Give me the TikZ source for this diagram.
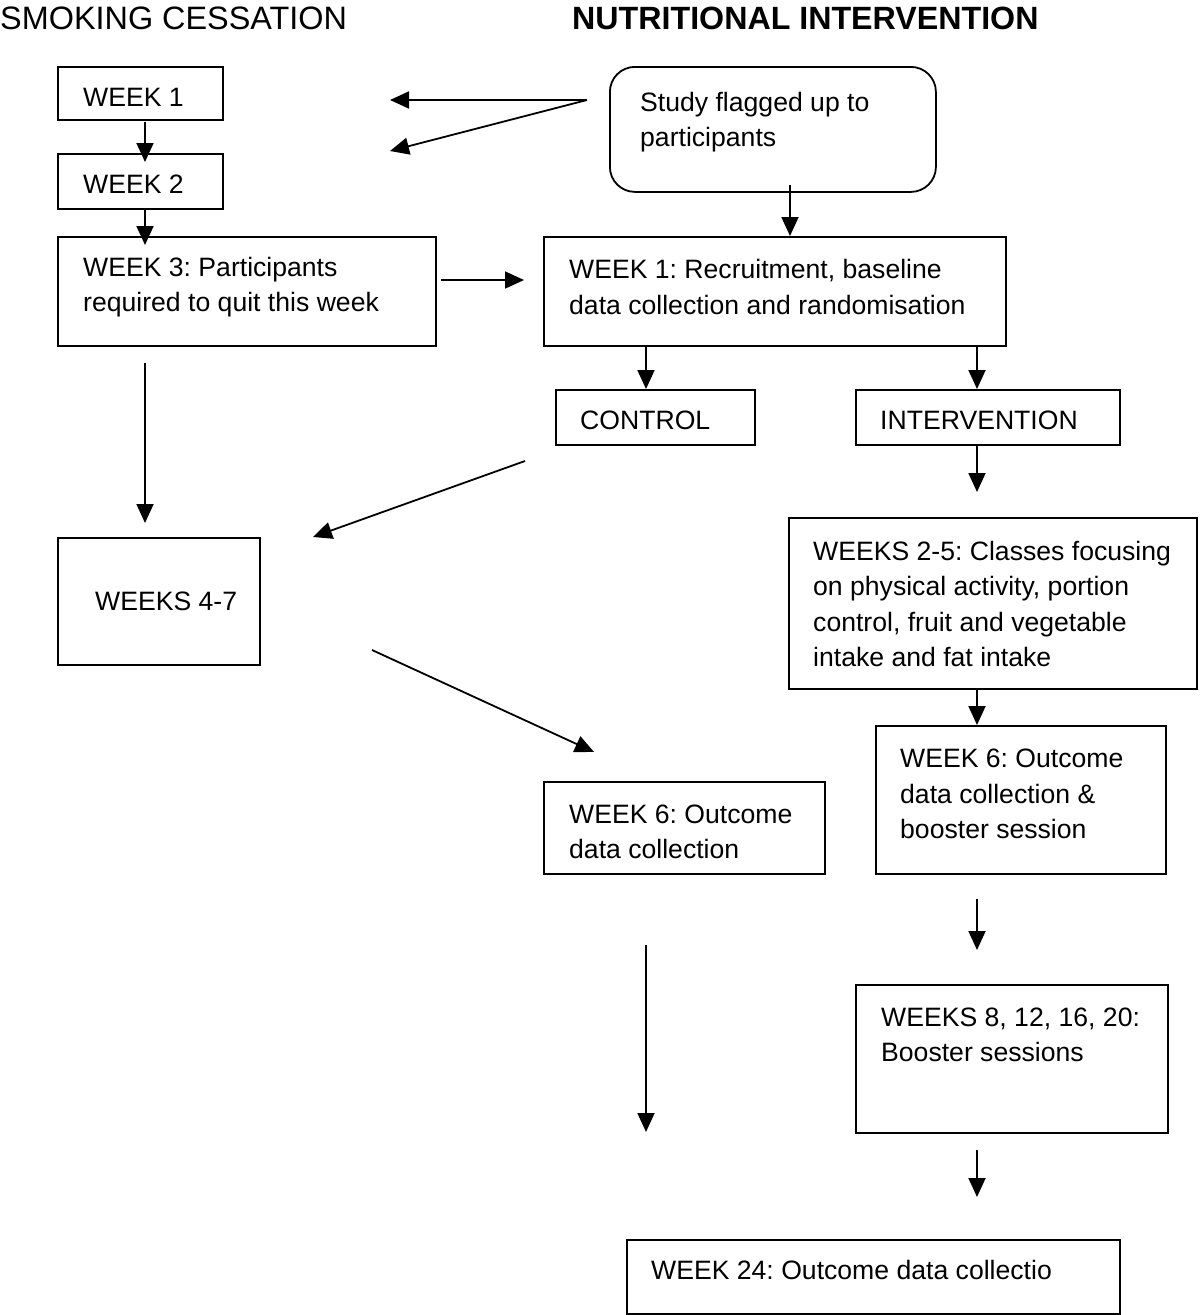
\documentclass[tikz,border=0pt]{standalone}
\usepackage{fontspec}
\setmainfont{Liberation Sans}
\newfontfamily\bodyf{Liberation Sans}
\usetikzlibrary{arrows.meta}
\frenchspacing
\begin{document}
\begin{tikzpicture}[x=1pt,y=-1pt,
  box/.style={draw, line width=1.8pt, inner sep=0pt, anchor=north west},
  txt/.style={anchor=west, inner sep=0pt, align=left, font=\bodyf\fontsize{26.6}{35.5}\selectfont},
  ttl/.style={anchor=west, inner sep=0pt, font=\fontsize{32.4}{38}\selectfont},
  arr/.style={line width=1.8pt, -{Triangle[length=19pt,width=17pt]}}]
\useasboundingbox[fill=white] (0,0) rectangle (1200,1315);

% titles
\node[ttl] (t1) at (0,18) {SMOKING CESSATION};
\node[ttl, font=\bfseries\fontsize{32.2}{38}\selectfont] (t2) at (572,18) {NUTRITIONAL INTERVENTION};

% boxes
\node[box, minimum width=165pt, minimum height=53pt] (w1) at (57,66) {};
\node[box, minimum width=165pt, minimum height=55pt] (w2) at (57,153) {};
\node[box, minimum width=378pt, minimum height=109pt] (w3) at (57,236) {};
\node[box, minimum width=202pt, minimum height=127pt] (w47) at (57,537) {};
\node[box, rounded corners=25pt, minimum width=326pt, minimum height=125pt] (study) at (609,66) {};
\node[box, minimum width=462pt, minimum height=109pt] (rec) at (543,236) {};
\node[box, minimum width=199pt, minimum height=55pt] (ctrl) at (555,389) {};
\node[box, minimum width=264pt, minimum height=55pt] (int) at (855,389) {};
\node[box, minimum width=408pt, minimum height=171pt] (cls) at (788,517) {};
\node[box, minimum width=281pt, minimum height=92pt] (o6c) at (543,781) {};
\node[box, minimum width=290pt, minimum height=148pt] (o6i) at (875,725) {};
\node[box, minimum width=312pt, minimum height=148pt] (bst) at (855,984) {};
\node[box, minimum width=493pt, minimum height=74pt] (w24) at (626,1239) {};

% texts
\node[txt] (w1t) at (83,97) {WEEK 1};
\node[txt] (w2t) at (83,184) {WEEK 2};
\node[txt] (w3t) at (83,287) {WEEK 3: Participants\\required to quit this week};
\node[txt] (w47t) at (95,601) {WEEKS 4-7};
\node[txt] (studyt) at (640,122) {Study flagged up to\\participants};
\node[txt] (rect) at (569,287) {WEEK 1: Recruitment, baseline\\data collection and randomisation};
\node[txt] (ctrlt) at (580,420) {CONTROL};
\node[txt] (intt) at (880,420) {INTERVENTION};
\node[txt] (clst) at (813,604) {WEEKS 2-5: Classes focusing\\on physical activity, portion\\control, fruit and vegetable\\intake and fat intake};
\node[txt] (o6ct) at (569,832) {WEEK 6: Outcome\\data collection};
\node[txt] (o6it) at (900,794) {WEEK 6: Outcome\\data collection \&\\booster session};
\node[txt] (bstt) at (881,1035) {WEEKS 8, 12, 16, 20:\\Booster sessions};
\node[txt] (w24t) at (651,1270) {WEEK 24: Outcome data collectio};

% free ends
\coordinate (sA) at (587,100);
\coordinate (eA) at (390,100);
\coordinate (eB) at (390,151);
\coordinate (c1) at (145,122);
\coordinate (c2) at (145,208);
\coordinate (c3) at (145,363);
\coordinate (c3e) at (145,523);
\coordinate (s1) at (790,185);
\coordinate (h1) at (441,280);
\coordinate (h1e) at (524,280);
\coordinate (r1) at (646,345);
\coordinate (r2) at (977,345);
\coordinate (i1e) at (977,492);
\coordinate (k1) at (525,461);
\coordinate (k1e) at (313,537);
\coordinate (m1) at (372,650);
\coordinate (m1e) at (594,752);
\coordinate (o1) at (977,899);
\coordinate (o1e) at (977,950);
\coordinate (q1) at (646,945);
\coordinate (q1e) at (646,1132);
\coordinate (b1) at (977,1150);
\coordinate (b1e) at (977,1197);

% connectors
\draw[arr] (sA) -- (eA);
\draw[arr] (sA) -- (eB);
\draw[arr] (c1) -- ([yshift=-9pt]w2.north -| c1);
\draw[arr] (c2) -- ([yshift=-9pt]w3.north -| c2);
\draw[arr] (s1) -- (rec.north -| s1);
\draw[arr] (h1) -- (h1e);
\draw[arr] (r1) -- (ctrl.north -| r1);
\draw[arr] (r2) -- (int.north -| r2);
\draw[arr] (int.south -| r2) -- (i1e);
\draw[arr] (cls.south -| r2) -- (o6i.north -| r2);
\draw[arr] (k1) -- (k1e);
\draw[arr] (c3) -- (c3e);
\draw[arr] (m1) -- (m1e);
\draw[arr] (o1) -- (o1e);
\draw[arr] (q1) -- (q1e);
\draw[arr] (b1) -- (b1e);
\end{tikzpicture}
\end{document}
